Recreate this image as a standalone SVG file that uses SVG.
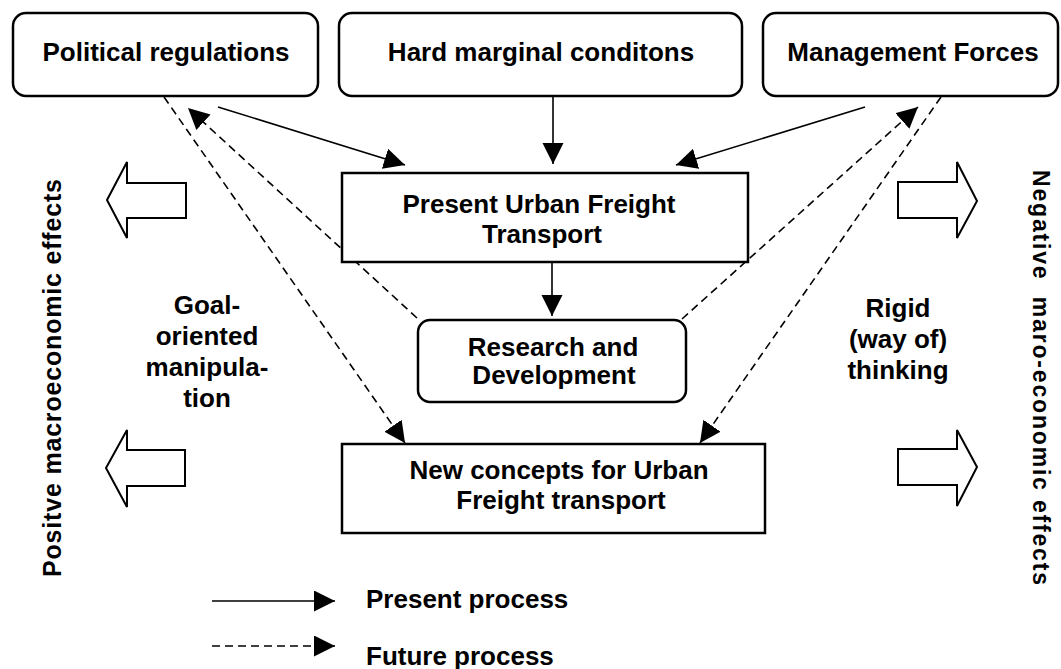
<svg xmlns="http://www.w3.org/2000/svg" width="1061" height="669" viewBox="0 0 1061 669">
<style>
text{font-family:"Liberation Sans",Arial,sans-serif;font-weight:bold;fill:#000}
.t{font-size:26px}
.c{text-anchor:middle}
.box{fill:#fff;stroke:#000;stroke-width:2.5}
.big{fill:#fff;stroke:#000;stroke-width:2}
.ln{fill:none;stroke:#000;stroke-width:1.6}
.dash{fill:none;stroke:#000;stroke-width:1.6;stroke-dasharray:8 5}
</style>
<defs>
<marker id="ah" markerUnits="userSpaceOnUse" markerWidth="24" markerHeight="24" refX="21" refY="10.5" orient="auto">
<path d="M0,0 L21,10.5 L0,21 z" fill="#000"/>
</marker>
</defs>
<g id="connectors">
<line class="ln" x1="218" y1="107" x2="405" y2="165" marker-end="url(#ah)"/>
<line class="ln" x1="553" y1="97" x2="553" y2="164" marker-end="url(#ah)"/>
<line class="ln" x1="865" y1="107" x2="676" y2="165" marker-end="url(#ah)"/>
<line class="ln" x1="552" y1="263" x2="552" y2="316" marker-end="url(#ah)"/>
<line class="dash" x1="417" y1="318" x2="188" y2="108" marker-end="url(#ah)"/>
<line class="dash" x1="164" y1="97" x2="405" y2="443" marker-end="url(#ah)"/>
<line class="dash" x1="682" y1="319" x2="918" y2="107" marker-end="url(#ah)"/>
<line class="dash" x1="941" y1="97" x2="700" y2="443" marker-end="url(#ah)"/>
</g>
<g id="political"><rect class="box" x="13" y="13" width="305" height="83" rx="13"/><text class="t c" x="166" y="61">Political regulations</text></g>
<g id="hard"><rect class="box" x="339" y="13" width="403" height="83" rx="13"/><text class="t c" x="541" y="61">Hard marginal conditons</text></g>
<g id="management"><rect class="box" x="763" y="13" width="295" height="83" rx="13"/><text class="t c" x="913" y="61">Management Forces</text></g>
<g id="present"><rect class="box" x="342" y="173" width="406" height="89"/><text class="t c" x="539" y="213">Present Urban Freight</text><text class="t c" x="542" y="243">Transport</text></g>
<g id="research"><rect class="box" x="418" y="320" width="268" height="82" rx="12"/><text class="t c" x="553" y="356">Research and</text><text class="t c" x="554" y="384">Development</text></g>
<g id="newconcepts"><rect class="box" x="342" y="444" width="423" height="89"/><text class="t c" x="559" y="479">New concepts for Urban</text><text class="t c" x="561" y="509">Freight transport</text></g>
<g id="left-arrows">
<polygon class="big" points="107,200 127,162 127,183 186,183 186,218 127,218 127,238"/>
<polygon class="big" points="106,468 127,430 127,450 185,450 185,486 127,486 127,507"/>
</g>
<g id="right-arrows">
<polygon class="big" points="977,201 957,162 957,182 898,182 898,218 957,218 957,238"/>
<polygon class="big" points="977,467 957,430 957,449 898,449 898,485 957,485 957,506"/>
</g>
<g id="goal-label">
<text class="t c" x="207" y="314">Goal-</text>
<text class="t c" x="207" y="345">oriented</text>
<text class="t c" x="207" y="376">manipula-</text>
<text class="t c" x="207" y="407">tion</text>
</g>
<g id="rigid-label">
<text class="t c" x="898" y="317">Rigid</text>
<text class="t c" x="898" y="348">(way of)</text>
<text class="t c" x="898" y="379">thinking</text>
</g>
<g id="positive-label"><text transform="translate(61,577) rotate(-90)" x="0" y="0" font-size="25" textLength="398">Positve macroeconomic effects</text></g>
<g id="negative-label"><text transform="translate(1033,170) rotate(90)" x="0" y="0" font-size="23" textLength="415" xml:space="preserve">Negative  maro-economic effects</text></g>
<g id="legend">
<line class="ln" x1="212" y1="601" x2="335" y2="601" marker-end="url(#ah)"/>
<text class="t" x="366" y="608">Present process</text>
<line class="dash" x1="212" y1="646" x2="335" y2="646" marker-end="url(#ah)"/>
<text class="t" x="366" y="665">Future process</text>
</g>
</svg>
